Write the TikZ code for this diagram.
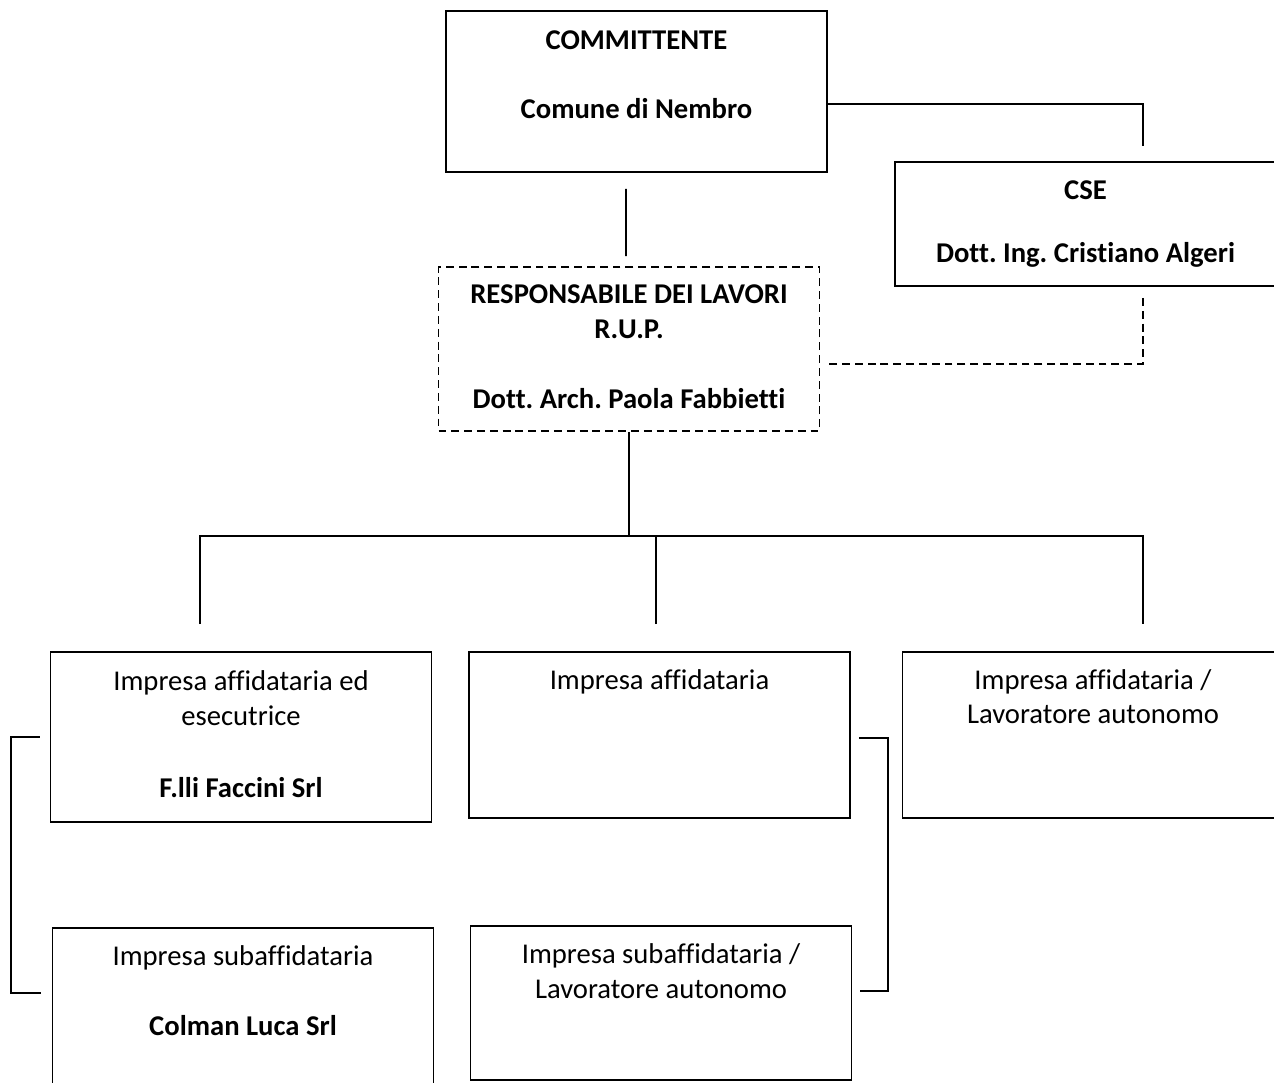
\documentclass[tikz,border=0pt]{standalone}
\usepackage{fontspec}
\setmainfont{Carlito}[Ligatures=NoCommon]
\usepackage{tikz}
\frenchspacing
\tikzstyle{entity} = [rectangle, minimum width=7.62cm, align=center, inner sep=0pt, draw=black, line width=1.1pt, font=\fontsize{16.3}{19.85}\selectfont\bfseries]
\tikzstyle{delegate} = [entity, dash pattern=on 4.5pt off 2.8pt]
\tikzstyle{company} = [entity, font=\fontsize{16.3}{19.85}\selectfont]
\tikzstyle{conn} = [line width=1.1pt]
\tikzstyle{dconn} = [line width=1.1pt, dash pattern=on 4.5pt off 2.8pt]

\begin{document}
\begin{tikzpicture}[node distance=5.2cm]
\useasboundingbox (0,0) rectangle (25.48,-21.64);
\clip (0,0) rectangle (25.48,-21.64);

\node (committente) [entity, minimum height=3.22cm] at (12.73,-1.83) {\strut COMMITTENTE\\[0.7cm]Comune di Nembro\\[-0.12cm]~\strut};
\node (resp_lavori) [delegate, minimum height=3.28cm, below of=committente, xshift=-0.15cm, yshift=0.05cm] {\strut RESPONSABILE DEI LAVORI\\R.U.P.\\[0.7cm]Dott. Arch. Paola Fabbietti\strut};
\node (cse) [entity, minimum height=2.48cm, right of=committente, xshift=3.78cm, yshift=-2.65cm] {\strut CSE\\[0.56cm]Dott. Ing. Cristiano Algeri\strut};
\node (aff) [company, minimum height=3.32cm, below of=resp_lavori, xshift=0.61cm, yshift=-2.52cm] {\strut Impresa affidataria\\[1.42cm]~\strut};
\node (aff_esec) [company, minimum height=3.4cm, left of=aff, xshift=-3.17cm, yshift=-0.04cm] {\strut Impresa affidataria ed\\esecutrice\\[0.74cm]\textbf{F.lli Faccini Srl}\strut};
\node (aff_auton) [company, minimum height=3.32cm, right of=aff, xshift=3.47cm] {\strut Impresa affidataria /\\Lavoratore autonomo\\[0.72cm]~\strut};
\node (subaff_auton) [company, minimum height=3.08cm, below of=aff, xshift=0.03cm, yshift=-0.16cm] {\strut Impresa subaffidataria /\\Lavoratore autonomo\\[0.46cm]~\strut};
\node (subaff) [company, minimum height=3.4cm, below of=aff_esec, xshift=0.04cm, yshift=-0.32cm] {\strut Impresa subaffidataria\\[0.72cm]\textbf{Colman Luca Srl}\\[0.08cm]~\strut};

\draw [conn] ([yshift=-0.25cm]committente.east) -| ([xshift=1.15cm,yshift=0.3cm]cse.north);
\draw [conn] ([xshift=-0.21cm,yshift=-0.32cm]committente.south) -- ([xshift=-0.06cm,yshift=0.2cm]resp_lavori.north);
\draw [dconn] ([xshift=1.15cm,yshift=-0.22cm]cse.south) |- ([xshift=0.14cm,yshift=-0.3cm]resp_lavori.east);
\draw [conn] (resp_lavori.south) -- ++(0,-2.08) coordinate (bus);
\draw [conn] ([xshift=-0.82cm,yshift=0.54cm]aff_esec.north) |- (bus) -| ([xshift=1cm,yshift=0.54cm]aff_auton.north);
\draw [conn] ([xshift=-0.07cm,yshift=0.54cm]aff.north) |- (bus);
\draw [conn] ([xshift=-0.2cm]aff_esec.west) -- ++(-0.58,0) |- ([xshift=-0.22cm,yshift=0.4cm]subaff.west);
\draw [conn] ([xshift=0.16cm,yshift=-0.06cm]aff.east) -- ++(0.58,0) |- ([xshift=0.16cm,yshift=0.24cm]subaff_auton.east);
\end{tikzpicture}
\end{document}
